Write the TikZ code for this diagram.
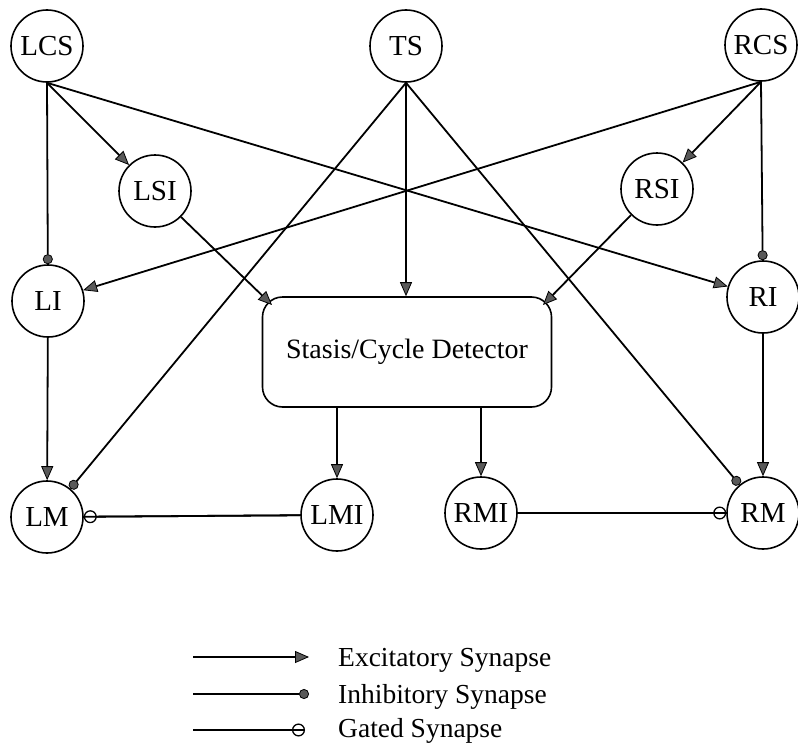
\documentclass[tikz,border=0pt]{standalone}
\usepackage{fontspec}
\setmainfont{Liberation Serif}
\usetikzlibrary{arrows.meta}
\begin{document}
\begin{tikzpicture}[x=1pt,y=-1pt,
  neuron/.style={circle, draw, line width=1.6pt, minimum size=72pt, inner sep=0pt, font=\fontsize{29}{32}\selectfont},
  detector/.style={draw, line width=1.6pt, rounded corners=20pt, minimum width=289pt, minimum height=110pt, inner sep=0pt, font=\fontsize{28}{32}\selectfont},
  conn/.style={line width=1.8pt},
  exc/.style={conn, -{Triangle[length=14pt, width=12pt, fill=black!65, line width=0.8pt]}},
  inh/.style={conn, -{Circle[length=10pt, fill=black!65, line width=0.8pt]}},
  gated/.style={conn, -{Circle[open, length=13pt, line width=1.3pt]}},
  legtext/.style={anchor=base west, inner sep=0pt, font=\fontsize{27.5}{30}\selectfont}
]
\useasboundingbox (0,0) rectangle (798,744);

% nodes
\node[neuron] (LCS) at (47,46) {LCS};
\node[neuron] (TS)  at (406,46) {TS};
\node[neuron] (RCS) at (761,45) {RCS};
\node[neuron] (LSI) at (155,191) {LSI};
\node[neuron] (RSI) at (657,189) {RSI};
\node[neuron] (LI)  at (48,301) {LI};
\node[neuron] (RI)  at (763,297) {RI};
\node[detector] (box) at (407,352) {Stasis/Cycle Detector};
\node[neuron] (LM)  at (47,517) {LM};
\node[neuron] (LMI) at (337,515) {LMI};
\node[neuron] (RMI) at (481,513) {RMI};
\node[neuron] (RM)  at (763,513) {RM};

\coordinate (boxNW) at (272,305);
\coordinate (boxNE) at (543,305);

% connections
\draw[inh] (LCS.south) -- (LI);
\draw[exc] (LCS.south) -- (LSI);
\draw[exc] (LCS.south) -- (RI);
\draw[exc] (TS.south) -- (TS.south |- box.north);
\draw[inh] (TS.south) -- (LM);
\draw[inh] (TS.south) -- (RM);
\draw[exc] (RCS.south) -- (RSI);
\draw[exc] (RCS.south) -- (LI);
\draw[inh] (RCS.south) -- (RI);
\draw[exc] (LSI.south east) -- (boxNW);
\draw[exc] (RSI.south west) -- (boxNE);
\draw[exc] (LI) -- (LM);
\draw[exc] (RI) -- (RM);
\draw[exc] (LMI |- box.south) -- (LMI);
\draw[exc] (RMI |- box.south) -- (RMI);
\draw[gated] (LMI) -- (LM);
\draw[conn] (LMI) -- (LM);
\draw[gated] (RMI) -- (RM);
\draw[conn] (RMI) -- (RM);

% legend
\coordinate (e1) at (193,657);
\coordinate (e2) at (309,657);
\coordinate (i1) at (193,694);
\coordinate (i2) at (309,694);
\coordinate (g1) at (193,730);
\coordinate (g2) at (305,730);
\draw[exc] (e1) -- (e2);
\draw[inh] (i1) -- (i2);
\draw[gated] (g1) -- (g2);
\draw[conn] (g1) -- (g2);
\node[legtext] (lexc) at (338,666) {Excitatory Synapse};
\node[legtext] (linh) at (338,703) {Inhibitory Synapse};
\node[legtext] (lgat) at (338,737) {Gated Synapse};
\end{tikzpicture}
\end{document}
